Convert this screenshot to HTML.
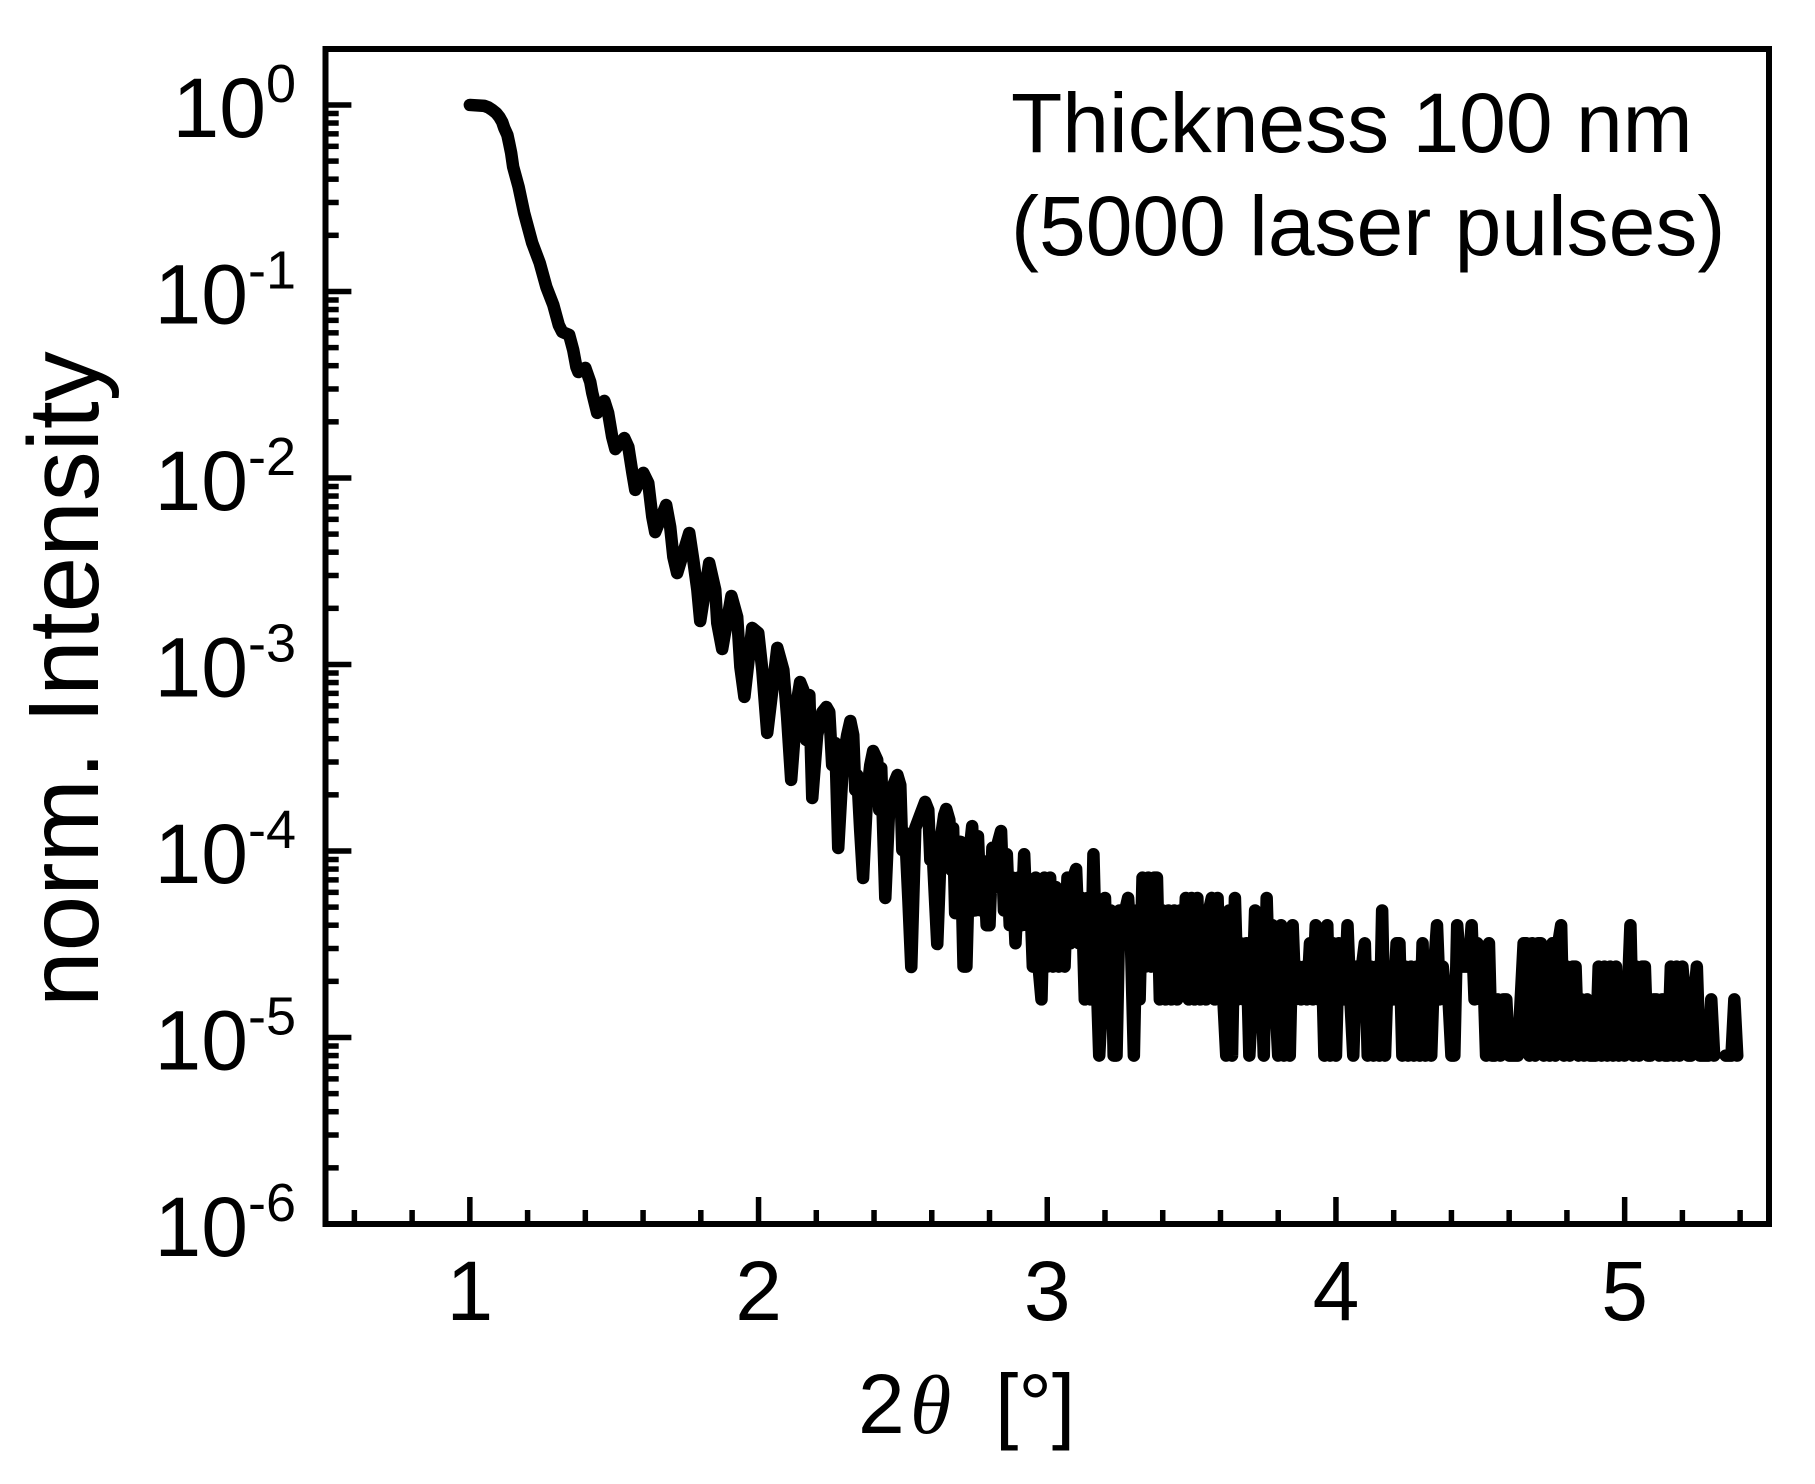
<!DOCTYPE html>
<html lang="en">
<head>
<meta charset="utf-8">
<title>Thickness 100 nm reflectivity curve</title>
<style>
  html, body { margin: 0; padding: 0; background: #fff; }
  svg { display: block; }
  text { font-family: "Liberation Sans", sans-serif; fill: #000; }
</style>
</head>
<body>
<svg id="chart" xmlns="http://www.w3.org/2000/svg" width="1815" height="1484" viewBox="0 0 1815 1484">
  <rect x="0" y="0" width="1815" height="1484" fill="#fff"/>
  <g id="curve-layer"></g>
  <g id="tick-layer"></g>
  <rect x="325.5" y="49" width="1443.5" height="1175" fill="none" stroke="#000" stroke-width="6"/>
  <g id="label-layer"></g>
  <text transform="translate(98,1007) rotate(-90)" font-size="100">norm. Intensity</text>
  <text y="1433" font-size="84"><tspan x="858">2</tspan><tspan x="910" style="font-family:'Liberation Serif',serif;font-style:italic">θ</tspan><tspan x="995">[°]</tspan></text>
  <text x="1011" y="152" font-size="84">Thickness 100 nm</text>
  <text x="1011" y="255" font-size="84">(5000 laser pulses)</text>
</svg>
<script>
// Axis configuration
const xDomain = [0.5, 5.5];
const yLogDomain = [0.3, -6];
const xMajorTicks = [1, 2, 3, 4, 5];
const xMinorTicks = [0.6, 0.8, 1.2, 1.4, 1.6, 1.8, 2.2, 2.4, 2.6, 2.8, 3.2, 3.4, 3.6, 3.8, 4.2, 4.4, 4.6, 4.8, 5.2, 5.4];
const yDecades = [0, -1, -2, -3, -4, -5, -6];
const yMinorMantissas = [2, 3, 4, 5, 6, 7, 8, 9];

// Smooth and fringe part of the curve: two-theta [deg], log10(normalised intensity)
const fringeTwoTheta = [1.000,1.050,1.064,1.078,1.091,1.102,1.112,1.119,1.130,1.136,1.143,1.150,1.169,1.188,1.216,1.242,1.265,1.289,1.308,1.320,1.344,1.358,1.369,1.376,1.400,1.417,1.424,1.441,1.466,1.479,1.493,1.504,1.535,1.549,1.563,1.573,1.601,1.618,1.632,1.642,1.680,1.694,1.705,1.718,1.760,1.774,1.788,1.798,1.829,1.850,1.857,1.874,1.906,1.926,1.937,1.951,1.978,1.999,2.013,2.030,2.065,2.086,2.099,2.113,
  2.134,2.144,2.155,2.165,2.176,2.186,2.203,2.221,2.235,2.245,2.255,2.266,2.276,2.293,2.307,2.318,2.328,2.335,2.342,2.352,2.362,2.377,2.387,2.397,2.411,2.418,2.425,2.439,2.453,2.467,2.481,2.491,2.498,2.508,2.519,2.529,2.543,2.560,2.577,2.588,2.595,2.605,2.619,2.633,2.643,2.650,2.661,2.668,2.674,2.681];
const fringeLog10Intensity = [0,-0.005,-0.013,-0.027,-0.043,-0.064,-0.091,-0.123,-0.161,-0.204,-0.257,-0.332,-0.440,-0.579,-0.740,-0.847,-0.976,-1.072,-1.180,-1.217,-1.233,-1.314,-1.405,-1.432,-1.410,-1.485,-1.544,-1.651,-1.587,-1.651,-1.780,-1.845,-1.786,-1.834,-1.973,-2.064,-1.973,-2.027,-2.209,-2.290,-2.145,-2.263,-2.424,-2.510,-2.295,-2.440,-2.600,-2.767,-2.456,-2.600,-2.778,-2.917,-2.633,-2.745,-3.013,-3.174,-2.804,-2.831,-3.030,-3.367,-2.911,-3.030,-3.282,-3.619,
  -3.190,-3.094,-3.137,-3.405,-3.164,-3.716,-3.378,-3.255,-3.228,-3.255,-3.539,-3.421,-3.984,-3.512,-3.378,-3.303,-3.378,-3.673,-3.593,-3.887,-4.145,-3.673,-3.539,-3.464,-3.512,-3.780,-3.555,-4.252,-3.753,-3.646,-3.593,-3.646,-3.995,-3.903,-4.263,-4.622,-3.877,-3.807,-3.737,-3.780,-4.048,-4.064,-4.499,-3.914,-3.807,-3.775,-3.834,-4.102,-3.877,-4.333];

// Noise floor: quantised detector counts on a regular scan grid (0 = no signal, line breaks)
const noiseStartTwoTheta = 2.70;
const noiseStepTwoTheta = 0.01;
const intensityPerCount = 8e-6;
const noiseCounts = [
  14,3,3,12,17,6,15,6,11,5,
  5,13,8,14,16,6,12,5,9,4,
  9,5,12,5,8,3,9,3,2,9,
  3,9,3,8,3,7,3,9,4,9,
  10,4,7,2,7,2,12,3,1,
  2,7,2,6,1,1,6,4,6,7,
  4,1,6,2,9,3,9,3,9,9,
  2,6,2,6,2,6,2,6,3,7,
  2,7,2,7,2,6,2,6,7,2,
  7,2,2,1,6,1,7,2,4,2,
  4,1,2,6,2,3,1,7,2,5,
  2,1,5,1,4,1,5,2,3,2,
  3,2,4,2,5,2,4,1,5,1,
  4,1,4,2,2,5,2,1,3,2,
  3,4,1,3,1,3,1,6,1,3,
  3,2,4,4,1,3,1,3,1,3,
  1,4,1,3,1,3,5,2,3,2,
  2,1,1,5,3,3,3,3,5,2,
  4,2,3,1,4,1,1,2,1,2,
  2,1,1,1,1,2,4,4,1,4,
  1,4,4,1,3,1,4,1,4,5,
  1,3,1,3,3,1,2,1,2,1,
  1,1,3,1,3,1,3,1,3,1,
  2,1,2,5,1,3,1,3,3,1,
  1,2,2,1,2,1,1,3,1,3,
  1,3,2,1,1,2,3,1,1,1,
  1,2,1,0,0,0,1,1,1,2,1
];

const SVG_NS = 'http://www.w3.org/2000/svg';
const plotLeft = 325.5, plotRight = 1769, plotTop = 49, plotBottom = 1224;

function xScale(value) {
  return plotLeft + (value - xDomain[0]) / (xDomain[1] - xDomain[0]) * (plotRight - plotLeft);
}
function yScale(logValue) {
  return plotTop + (yLogDomain[0] - logValue) / (yLogDomain[0] - yLogDomain[1]) * (plotBottom - plotTop);
}
function tickLine(parent, x1, y1, x2, y2) {
  const line = document.createElementNS(SVG_NS, 'line');
  line.setAttribute('x1', x1);
  line.setAttribute('y1', y1);
  line.setAttribute('x2', x2);
  line.setAttribute('y2', y2);
  line.setAttribute('stroke', '#000');
  line.setAttribute('stroke-width', '5.5');
  parent.appendChild(line);
  return line;
}

const tickLayer = document.getElementById('tick-layer');
const labelLayer = document.getElementById('label-layer');

xMajorTicks.forEach(function (value) {
  const tick = tickLine(tickLayer, xScale(value), plotBottom, xScale(value), 1197);
  
  
  const label = document.createElementNS(SVG_NS, 'text');
  
  
  label.setAttribute('x', xScale(value));
  label.setAttribute('y', 1320);
  label.setAttribute('font-size', '84');
  label.setAttribute('text-anchor', 'middle');
  label.textContent = String(value);
  labelLayer.appendChild(label);
});
xMinorTicks.forEach(function (value) {
  const tick = tickLine(tickLayer, xScale(value), plotBottom, xScale(value), 1210);
  
  
});
yDecades.forEach(function (decade) {
  const y = yScale(decade);
  if (decade > -6) {
    const tick = tickLine(tickLayer, plotLeft, y, 351.4, y);
    
    
  }
  const label = document.createElementNS(SVG_NS, 'text');
  
  
  label.setAttribute('x', 296);
  label.setAttribute('y', y + 32);
  label.setAttribute('font-size', '84');
  label.setAttribute('text-anchor', 'end');
  label.appendChild(document.createTextNode('10'));
  const sup = document.createElementNS(SVG_NS, 'tspan');
  sup.setAttribute('font-size', '54');
  sup.setAttribute('dy', '-35');
  sup.textContent = String(decade);
  label.appendChild(sup);
  labelLayer.appendChild(label);
  if (decade > -6) {
    yMinorMantissas.forEach(function (mantissa) {
      const yMinor = yScale(decade - 1 + Math.log10(mantissa));
      const minor = tickLine(tickLayer, plotLeft, yMinor, 338.7, yMinor);
      
      
    });
  }
});

// Curve path
let curvePath = '';
let penDown = false;
function addPoint(twoTheta, logI) {
  curvePath += (penDown ? 'L' : 'M') + xScale(twoTheta).toFixed(2) + ' ' + yScale(logI).toFixed(2);
  penDown = true;
}
fringeTwoTheta.forEach(function (twoTheta, i) {
  addPoint(twoTheta, fringeLog10Intensity[i]);
});
noiseCounts.forEach(function (count, j) {
  if (count <= 0) {
    penDown = false;
    return;
  }
  addPoint(noiseStartTwoTheta + j * noiseStepTwoTheta, Math.log10(count * intensityPerCount));
});
const curve = document.createElementNS(SVG_NS, 'path');


curve.setAttribute('d', curvePath);
curve.setAttribute('fill', 'none');
curve.setAttribute('stroke', '#000');
curve.setAttribute('stroke-width', '12.5');
curve.setAttribute('stroke-linejoin', 'round');
curve.setAttribute('stroke-linecap', 'round');
document.getElementById('curve-layer').appendChild(curve);
</script>
</body>
</html>
